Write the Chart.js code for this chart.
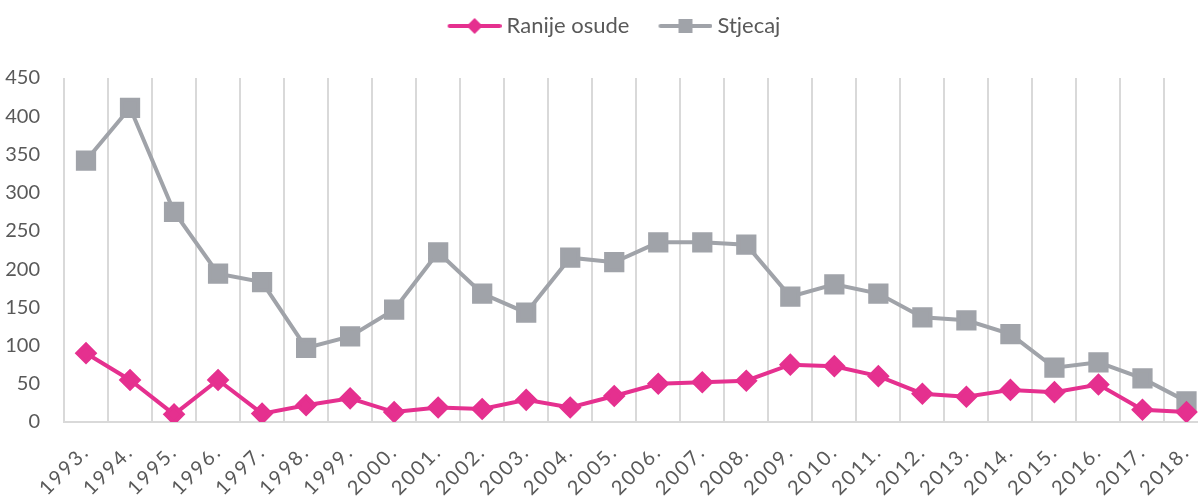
<!DOCTYPE html>
<html><head><meta charset="utf-8">
<script src="https://cdn.jsdelivr.net/npm/chart.js@4.4.0/dist/chart.umd.min.js"></script>
<style>html,body{margin:0;padding:0;overflow:hidden;background:#fff;width:1198px;height:496px}#wrap{width:1224px;height:496px}</style>
</head><body><div id="wrap"><canvas id="c" width="1224" height="496"></canvas></div>
<script>
const years = ["1993.","1994.","1995.","1996.","1997.","1998.","1999.","2000.","2001.","2002.","2003.","2004.","2005.","2006.","2007.","2008.","2009.","2010.","2011.","2012.","2013.","2014.","2015.","2016.","2017.","2018."];
const ranijeOsude = [90,55,10,55,11,22,31,13,19,17,29,19,34,50,52,54,75,73,60,37,33,42,39,49,16,13];
const stjecaj = [342,411,275,194,183,97,112,147,222,168,143,215,209,235,235,232,164,180,168,137,133,115,71,78,57,27];
const yTicks = [0,50,100,150,200,250,300,350,400,450];
const PINK = "#E5308F", GRAY = "#A0A3A9", TXT = "#595959", FONT = "Lato";

// legend icon: line with marker, drawn at the right end of a wider transparent canvas
const ICON_W = 74, ICON_H = 20;
function icon(color, style){
  const c = document.createElement('canvas'); c.width = ICON_W; c.height = ICON_H;
  const x = c.getContext('2d');
  const x0 = ICON_W - 54;
  x.strokeStyle = color; x.lineWidth = 4; x.lineCap = 'round';
  x.beginPath(); x.moveTo(x0 + 2, 10); x.lineTo(x0 + 52, 10); x.stroke();
  x.fillStyle = color;
  const cx = x0 + 27;
  if (style === 'diamond'){ x.beginPath(); x.moveTo(cx,2); x.lineTo(cx+8,10); x.lineTo(cx,18); x.lineTo(cx-8,10); x.closePath(); x.fill(); }
  else { x.fillRect(cx-7,3,14,14); }
  return c;
}
const icons = [icon(PINK,'diamond'), icon(GRAY,'square')];

const layoutTweaks = {
  id: 'layoutTweaks',
  afterInit(chart){
    const lg = chart.legend;
    const orig = lg.fit;
    lg.fit = function(){ orig.call(this); this.height = 78; };
  },
  beforeDraw(chart){
    chart.legend.right = chart.width - 10;
    const sx = chart.scales.x;
    if (!sx._lsPatched){
      const origDraw = sx.drawLabels;
      sx.drawLabels = function(a){ const ctx = this.ctx; ctx.save(); ctx.letterSpacing = '2px'; origDraw.call(this, a); ctx.restore(); };
      sx._lsPatched = true;
    }
  }
};

new Chart(document.getElementById('c'), {
  type: 'line',
  data: { labels: years, datasets: [
    { label: 'Ranije osude', data: ranijeOsude, borderColor: PINK, backgroundColor: PINK, borderWidth: 4, pointStyle: 'rectRot', pointRadius: 8.5, pointHoverRadius: 8.5, tension: 0 },
    { label: 'Stjecaj', data: stjecaj, borderColor: GRAY, backgroundColor: GRAY, borderWidth: 4, pointStyle: 'rect', pointRadius: 11.5, pointHoverRadius: 11.5, tension: 0 }
  ]},
  plugins: [layoutTweaks],
  options: {
    responsive: false, animation: false,
    layout: { padding: { left: 0, right: 0, top: 0, bottom: 0 } },
    plugins: {
      tooltip: { enabled: false },
      legend: { position: 'top', align: 'center',
        labels: { usePointStyle: true, pointStyleWidth: 62, boxHeight: 20, padding: 15, color: TXT, font: { family: FONT, size: 22 },
          generateLabels: (chart) => chart.data.datasets.map((d,i) => ({ text: d.label, pointStyle: icons[i], fillStyle: d.borderColor, strokeStyle: d.borderColor, lineWidth: 0, fontColor: TXT, datasetIndex: i, hidden: false })) } }
    },
    scales: {
      x: { offset: true,
        grid: { display: true, offset: true, color: '#D9D9D9', lineWidth: 2, drawTicks: false },
        border: { display: true, color: '#D9D9D9', width: 2 },
        ticks: { color: TXT, font: { family: FONT, size: 20 }, minRotation: 45, maxRotation: 45, padding: 18, autoSkip: false },
        afterFit: (s) => { s.height = 74; } },
      y: { min: 0, max: 450, afterBuildTicks: (s) => { s.ticks = yTicks.map(v => ({ value: v })); },
        grid: { display: false }, border: { display: false },
        ticks: { color: TXT, font: { family: FONT, size: 20 }, padding: 16 },
        afterFit: (s) => { s.width = 64; } }
    }
  }
});
</script></body></html>
